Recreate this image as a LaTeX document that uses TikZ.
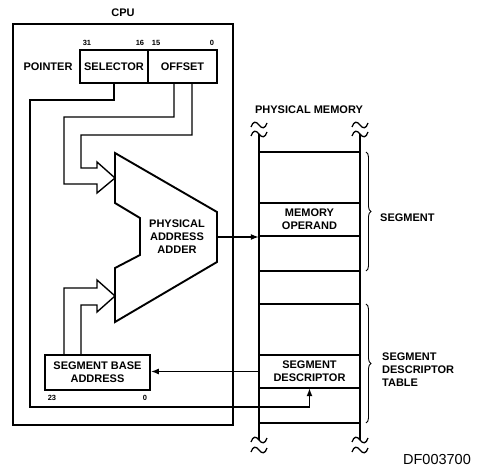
\documentclass[tikz,border=0pt]{standalone}
\usepackage{fontspec}
\setmainfont{Liberation Sans}
\usetikzlibrary{arrows.meta,decorations.pathreplacing,calc}
\newcommand\wavemark[2]{\draw[line width=1.3pt] ({#1-8},{#2+2}) .. controls ({#1-6},{#2-4}) and ({#1-3},{#2-4}) .. (#1,#2) .. controls ({#1+3},{#2+4}) and ({#1+6},{#2+4}) .. ({#1+8},{#2-2});}
\begin{document}
\begin{tikzpicture}[x=1pt,y=-1pt,
  lbl/.style={font=\fontsize{11}{13}\selectfont\bfseries, align=center, inner sep=0pt},
  lbll/.style={font=\fontsize{11}{13}\selectfont\bfseries, align=left, inner sep=0pt, anchor=west},
  bits/.style={font=\fontsize{7.5}{8}\selectfont\bfseries, inner sep=0pt},
  reg/.style={draw, line width=1.7pt, inner sep=0pt, font=\fontsize{11}{13}\selectfont\bfseries, align=center},
  wire/.style={line width=1.4pt},
  heavy/.style={line width=1.9pt},
  tip/.style={-{Latex[length=8pt,width=6pt]}},
  memline/.style={line width=1.7pt},
  memcell/.style={font=\fontsize{11}{13}\selectfont\bfseries, align=center, inner sep=0pt, minimum width=101pt, minimum height=33pt},
  bracestyle/.style={line width=0.9pt, decorate, decoration={brace, amplitude=5pt}},
]
\useasboundingbox (0,0) rectangle (477,476);

% CPU
\node[lbl] (cpulbl) at (123,12.5) {CPU};
\node[draw, heavy, minimum width=220pt, minimum height=401pt, inner sep=0pt] (cpu) at (123,224.5) {};

% pointer register
\node[lbl] (ptr) at (48,67) {POINTER};
\node[reg, minimum width=68pt, minimum height=33pt] (sel) at (114,66.5) {SELECTOR};
\node[reg, minimum width=69pt, minimum height=33pt] (off) at (182.5,66.5) {OFFSET};
\node[bits] (b31) at (87,43) {31};
\node[bits] (b16) at (140,43) {16};
\node[bits] (b15) at (156,43) {15};
\node[bits] (b0) at (212,43) {0};

% adder
\draw[heavy] (115,153) -- (217,212) -- (217,262) -- (115,322) -- (115,268) -- (140,255) -- (140,218) -- (115,203) -- cycle;
\node[lbl] (adder) at (177,237) {PHYSICAL\\ADDRESS\\ADDER};
\coordinate (addout) at (217,237);
\coordinate (addin1) at (115,178);
\coordinate (addin2) at (115,296);

% segment base address
\node[reg, minimum width=105pt, minimum height=35pt] (sba) at (97.5,372.5) {SEGMENT BASE\\ADDRESS};
\node[bits] (b23) at (52,398) {23};
\node[bits] (b0b) at (145,398) {0};

% hollow arrows
\draw[wire] ($(off.south)+(-8.5,0)$) |- (64,117) |- (97,184) -- (97,193) -- (addin1) -- (97,162) -- (97,168) -| (81,135) -| ($(off.south)+(9.5,0)$);
\draw[wire] ($(sba.north)+(-33.5,0)$) |- (97,288) -- (97,280) -- (addin2) -- (97,312) -- (97,305) -| ($(sba.north)+(-16.5,0)$);

% physical memory
\node[lbl] (pmlbl) at (309,110) {PHYSICAL MEMORY};
\draw[memline] (259,134) -- (259,440);
\draw[memline] (360,134) -- (360,440);
\foreach \yy in {152,203,236,271,304,355,388,423} \draw[memline] (259,\yy) -- (360,\yy);
\node[memcell] (memop) at (309.5,219.5) {MEMORY\\OPERAND};
\node[memcell] (segdesc) at (309.5,371.5) {SEGMENT\\DESCRIPTOR};
\wavemark{259}{125}\wavemark{259}{134}
\wavemark{360}{125}\wavemark{360}{134}
\wavemark{259}{440}\wavemark{259}{450}
\wavemark{360}{440}\wavemark{360}{450}

% connectors
\draw[wire,tip] (addout) -- (addout -| memop.west);
\draw[wire,tip] (segdesc.west) -- (segdesc.west -| sba.east);
\draw[wire,tip] (sel.south) |- (30,100) |- (309.5,407) -- (segdesc.south);

% braces
\draw[bracestyle] (366,152) -- (366,271);
\draw[bracestyle] (366,304) -- (366,423);
\node[lbll] (seglbl) at (380,218) {SEGMENT};
\node[lbll] (sdtlbl) at (382,370) {SEGMENT\\DESCRIPTOR\\TABLE};

\node[font=\fontsize{14.5}{16}\selectfont, inner sep=0pt] (df) at (437,460) {DF003700};
\end{tikzpicture}
\end{document}
